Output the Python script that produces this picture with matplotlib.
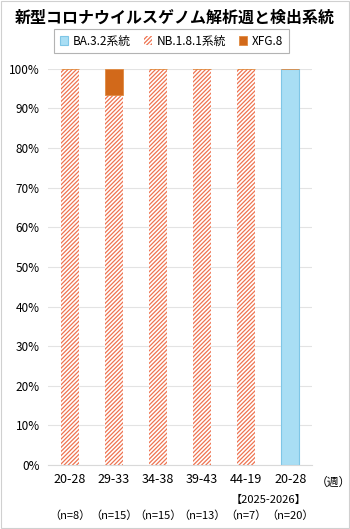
import matplotlib
matplotlib.use("Agg")
import matplotlib.pyplot as plt
import numpy as np

plt.rcParams["font.family"] = ["Noto Sans CJK JP", "DejaVu Sans"]
plt.rcParams["hatch.linewidth"] = 0.9

weeks = ["20-28", "29-33", "34-38", "39-43", "44-19", "20-28"]
counts = ["(n=8)", "(n=15)", "(n=15)", "(n=13)", "(n=7)", "(n=20)"]
ba32 = [0, 0, 0, 0, 0, 100]
nb181 = [100, 93.3, 100, 100, 100, 0]
xfg8 = [0, 6.7, 0, 0, 0, 0]

fig = plt.figure(figsize=(3.5, 5.29), dpi=100)
ax = fig.add_axes([0.137, 0.121, 0.755, 0.749])

x = np.arange(len(weeks))
w = 0.42
ax.bar(x, ba32, w, color="#A9DEF4", edgecolor="#7FC6E6", linewidth=0.8, label="BA.3.2系統")
ax.bar(x, nb181, w, bottom=ba32, color="white", edgecolor="#EE7350", hatch="////////",
       linewidth=0, label="NB.1.8.1系統")
bottom2 = [a + b for a, b in zip(ba32, nb181)]
ax.bar(x, xfg8, w, bottom=bottom2, color="#D2691A", edgecolor="#E08A40", linewidth=0.6, label="XFG.8")

ax.set_xlim(-0.5, len(weeks) - 0.5)
ax.set_ylim(0, 100)
ax.set_yticks(range(0, 101, 10))
ax.set_yticklabels([f"{v}%" for v in range(0, 101, 10)], fontsize=8.5)
ax.yaxis.grid(True, color="#E3E3E3", linewidth=0.8)
ax.set_axisbelow(True)
for s in ["top", "right", "left"]:
    ax.spines[s].set_visible(False)
ax.spines["bottom"].set_color("#D9D9D9")
ax.tick_params(length=0, pad=6)

ax.set_xticks(x)
ax.set_xticklabels(weeks, fontsize=9)
for i, c in enumerate(counts):
    ax.text(x[i], -12.7, c.replace("(", "（").replace(")", "）"), ha="center", va="center",
            fontsize=8, clip_on=False)
ax.text(4.5, -8.7, "【2025-2026】", ha="center", va="center", fontsize=8, clip_on=False)
ax.text(5.98, -4.5, "（週）", ha="center", va="center", fontsize=8.5, clip_on=False)

fig.text(0.5, 0.966, "新型コロナウイルスゲノム解析週と検出系統", ha="center", va="center",
         fontsize=11.5, fontweight="bold")
leg = ax.legend(loc="center", bbox_to_anchor=(0.49, 0.922), bbox_transform=fig.transFigure,
                ncol=3, fontsize=8.5, frameon=True, fancybox=False, handlelength=0.7,
                handleheight=0.7, columnspacing=1.1, handletextpad=0.4, borderpad=0.45,
                borderaxespad=0)
leg.get_frame().set_edgecolor("#A0A0A0")
leg.get_frame().set_linewidth(0.8)

fig.patches.append(plt.Rectangle((0.002, 0.002), 0.996, 0.996, transform=fig.transFigure,
                                 fill=False, edgecolor="#D0D0D0", linewidth=0.8))

fig.savefig("out.png", dpi=100)
